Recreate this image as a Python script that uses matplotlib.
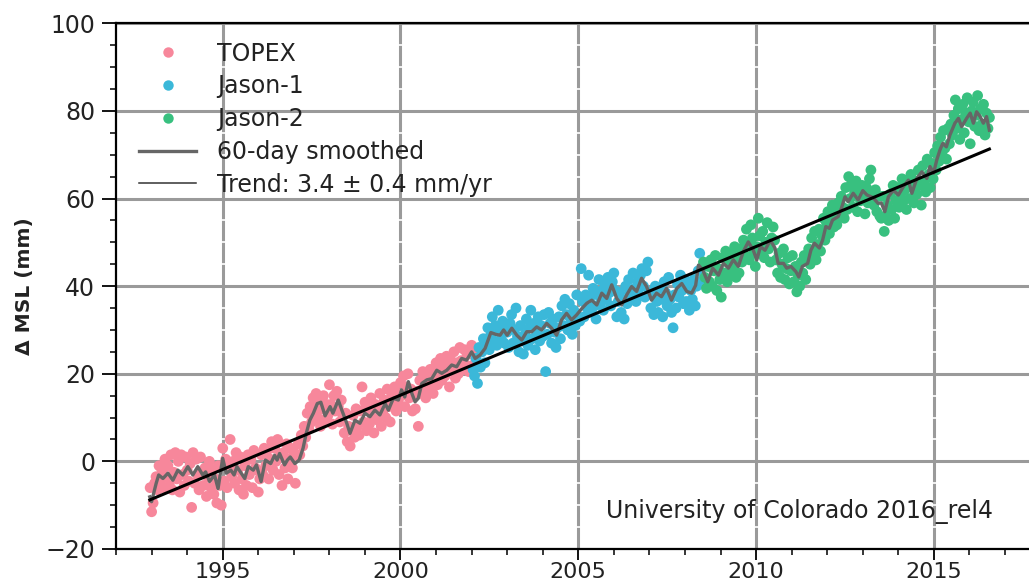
import numpy as np
import matplotlib.pyplot as plt
from matplotlib.lines import Line2D
from matplotlib.ticker import MultipleLocator

plt.rcParams['font.family'] = ['DejaVu Sans']

# --- dane, krok ~15 dni ---
step = 1 / 24

topex_start = 1992.96
topex_mm = [
    -6.0, -11.5, -9.5, -5.0, -3.5, -6.5, -1.0, -4.5, -2.0, -6.0, 0.5, -3.5,
    -1.0, -5.5, 1.5, -6.5, -2.5, 2.0, -4.0, 0.0, -7.0, 1.5, -3.0, -5.5,
    1.0, -2.0, -4.5, -0.5, -10.5, 2.0, -5.0, 0.5, -3.0, -6.5, 1.0, -2.5,
    -5.5, -1.5, -8.0, -3.5, 0.0, -6.0, -2.0, -7.5, -4.0, -9.5, -1.0, -5.5,
    -10.0, 3.0, -4.5, 0.5, -6.0, -1.5, 5.0, -3.5, 0.0, -5.0, 2.0, -2.0,
    -6.5, 1.0, -4.0, -7.5, -1.0, -5.5, 1.5, -3.0, 0.5, -6.0, 2.5, -1.5,
    -2.0, -7.0, -4.0, 1.5, -3.0, 3.0, -1.0, 2.5, -4.0, 0.5, 4.5, -2.0,
    3.0, 0.0, 5.0, -3.0, 1.5, -5.5, 2.0, -1.5, 4.0, -4.0, 0.5, 3.0,
    -1.5, 2.0, -5.0, 1.0, 4.0, 1.5, 6.0, 3.5, 8.0, 5.5, 11.0, 7.5,
    12.5, 9.0, 14.5, 11.0, 15.5, 10.0, 13.5, 8.0, 12.0, 15.0, 9.5, 13.0,
    10.5, 17.5, 13.0, 8.5, 15.0, 11.5, 16.0, 12.5, 9.0, 14.0, 10.5, 6.5,
    11.0, 4.5, 8.0, 3.5, 7.0, 10.5, 5.5, 12.0, 8.0, 6.0, 11.5, 17.0,
    9.0, 13.5, 7.0, 12.0, 8.5, 14.5, 10.0, 6.5, 13.0, 9.5, 12.0, 15.5,
    8.0, 11.0, 14.0, 10.0, 16.5, 12.5, 9.0, 15.0, 13.0, 17.0, 11.5, 15.5,
    13.0, 18.0, 15.0, 19.5, 12.5, 17.0, 20.0, 14.5, 16.5, 11.5, 15.0, 12.0,
    16.0, 8.0, 18.5, 15.5, 20.5, 17.0, 14.5, 19.0, 16.5, 21.0, 18.0, 15.5,
    19.0, 22.5, 17.5, 21.0, 23.5, 18.5, 22.0, 19.5, 24.0, 20.5, 17.0, 23.0,
    21.5, 25.0, 19.0, 22.5, 20.0, 26.0, 23.0, 21.0, 25.5, 22.0, 24.5, 20.5,
    24.5, 26.5, 22.0, 25.0,
]

jason1_start = 2002.04
jason1_mm = [
    21.0, 19.5, 23.5, 17.8, 26.0, 21.5, 25.0, 28.0, 22.5, 27.0, 30.5, 25.5,
    29.0, 33.0, 27.5, 31.0, 26.5, 34.5, 30.0, 28.0, 32.0, 27.0, 31.5, 29.5,
    26.0, 31.5, 33.5, 27.0, 30.0, 35.0, 28.5, 25.0, 31.0, 27.5, 24.5, 29.0,
    32.5, 26.5, 30.5, 34.5, 28.0, 31.5, 25.5, 29.5, 33.0, 27.5, 31.0, 28.5,
    33.5, 20.5, 29.0, 34.0, 31.5, 27.0, 32.5, 29.5, 26.0, 30.5, 33.0, 28.0,
    35.5, 31.0, 37.0, 33.5, 30.0, 36.0, 32.5, 29.0, 34.5, 31.0, 38.0, 33.0,
    32.0, 44.0, 36.5, 33.0, 38.0, 35.0, 42.5, 37.5, 34.0, 39.5, 35.5, 32.5,
    38.0, 41.5, 36.0, 39.0, 34.5, 40.5, 37.0, 42.0, 38.5, 35.5, 41.0, 43.0,
    39.0, 33.0, 36.5, 38.5, 34.0, 37.0, 32.5, 40.0, 36.0, 41.5, 38.5, 37.0,
    43.0, 39.5, 36.5, 41.0, 38.0, 42.5, 44.0, 40.0, 37.5, 43.5, 45.5, 38.5,
    35.0, 38.0, 33.5, 40.0, 36.5, 34.0, 39.5, 37.0, 33.0, 41.0, 38.5, 35.5,
    42.0, 37.0, 34.0, 30.5, 38.0, 35.0, 40.5, 37.5, 42.5, 39.0, 36.0, 41.5,
    36.5, 40.5, 34.5, 39.0, 37.0, 41.5, 35.5, 40.0, 43.5, 47.5, 44.0, 41.5,
    45.0,
]

jason2_start = 2008.52
jason2_mm = [
    45.5, 42.0, 39.5, 44.5, 41.0, 46.0, 40.0, 43.5, 47.0, 39.0, 44.0, 41.5,
    37.5, 46.5, 43.0, 48.0, 41.0, 45.5, 42.5, 47.5, 44.0, 49.0, 42.0, 46.0,
    43.0, 48.5, 45.5, 50.5, 47.0, 53.0, 49.5, 46.0, 54.0, 51.0, 47.5, 44.5,
    49.0, 55.5, 51.5, 48.0, 52.5, 46.5, 50.0, 54.5, 48.5, 45.5, 51.0, 53.5,
    50.5, 46.0, 43.0, 47.5, 42.0, 45.0, 48.5, 41.5, 44.0, 46.5, 40.5, 43.5,
    47.0, 41.0, 44.5, 38.7, 42.5, 40.0, 45.5, 43.0, 47.0, 41.5, 46.0, 48.5,
    45.0, 51.0, 47.5, 52.5, 46.0, 49.5, 53.0, 48.0, 51.5, 55.5, 50.5, 54.5,
    57.0, 52.0, 55.0, 58.5, 53.5, 57.0, 54.0, 59.0, 56.0, 60.5, 58.0, 55.5,
    62.5, 57.5, 65.0, 60.0, 63.5, 58.0, 61.5, 64.0, 57.0, 62.0, 59.5, 63.0,
    60.5, 56.5, 62.5, 59.0, 64.5, 66.5, 61.0, 58.5, 62.0, 57.0, 60.5, 56.0,
    55.5, 60.5, 52.5, 56.0, 58.5, 55.0, 61.0, 57.5, 63.0, 55.5, 59.5, 62.5,
    58.0, 61.0, 64.5, 59.5, 62.0, 57.5, 63.5, 60.0, 65.5, 62.5, 59.0, 64.0,
    61.0, 66.5, 63.0, 58.5, 67.5, 64.0, 61.5, 69.0, 65.5, 62.5, 68.0, 64.5,
    70.5, 66.5, 72.0, 68.5, 74.0, 70.0, 75.5, 71.5, 69.0, 76.0, 72.5, 77.0,
    74.5, 79.0, 82.5, 76.0, 80.5, 73.5, 78.0, 81.5, 75.0, 79.5, 83.0, 77.5,
    72.5, 80.0, 82.0, 76.5, 79.0, 83.5, 75.5, 80.5, 77.0, 81.5, 74.5, 79.5,
    76.0, 78.5,
]

# krzywa wygladzona (60 dni)
smooth_year = [
    1992.95, 1993.00, 1993.13, 1993.20, 1993.32, 1993.46, 1993.60, 1993.74, 1993.88,
    1994.02, 1994.16, 1994.30, 1994.44, 1994.52, 1994.63, 1994.77, 1994.87,
    1995.00, 1995.10, 1995.23, 1995.32, 1995.40, 1995.62, 1995.72, 1995.86, 1995.95,
    1996.08, 1996.20, 1996.35, 1996.46, 1996.53, 1996.60, 1996.74, 1996.82, 1996.90,
    1997.03, 1997.15, 1997.26, 1997.35, 1997.45, 1997.55, 1997.66, 1997.76, 1997.88,
    1998.02, 1998.10, 1998.25, 1998.35, 1998.49, 1998.58, 1998.72, 1998.86,
    1999.00, 1999.14, 1999.28, 1999.42, 1999.57, 1999.66, 1999.80, 1999.94,
    2000.03, 2000.12, 2000.22, 2000.32, 2000.41, 2000.50, 2000.60, 2000.74, 2000.88,
    2001.02, 2001.16, 2001.30, 2001.44, 2001.58, 2001.72, 2001.86,
    2002.00, 2002.10, 2002.24, 2002.38, 2002.54, 2002.68, 2002.80, 2002.90,
    2003.00, 2003.13, 2003.27, 2003.41, 2003.55, 2003.69, 2003.83, 2003.97,
    2004.11, 2004.25, 2004.39, 2004.53, 2004.67, 2004.81, 2004.95,
    2005.10, 2005.24, 2005.38, 2005.52, 2005.66, 2005.80, 2005.94,
    2006.08, 2006.22, 2006.36, 2006.50, 2006.64, 2006.78, 2006.92,
    2007.06, 2007.20, 2007.34, 2007.48, 2007.62, 2007.77, 2007.91,
    2008.05, 2008.19, 2008.30, 2008.38, 2008.50, 2008.64, 2008.78, 2008.94,
    2009.08, 2009.22, 2009.36, 2009.50, 2009.64, 2009.78, 2009.92,
    2010.02, 2010.12, 2010.25, 2010.40, 2010.53, 2010.62, 2010.77, 2010.86, 2010.98,
    2011.12, 2011.20, 2011.30, 2011.45, 2011.54, 2011.64, 2011.78, 2011.87, 2011.96,
    2012.06, 2012.15, 2012.31, 2012.40, 2012.50, 2012.59, 2012.73, 2012.87,
    2013.00, 2013.12, 2013.29, 2013.43, 2013.52, 2013.62, 2013.72, 2013.86,
    2014.00, 2014.14, 2014.28, 2014.38, 2014.52, 2014.66, 2014.80, 2014.89, 2014.99,
    2015.08, 2015.17, 2015.25, 2015.35, 2015.45, 2015.59, 2015.69, 2015.78, 2015.92,
    2016.02, 2016.11, 2016.20, 2016.30, 2016.39, 2016.48, 2016.56,
]
smooth_mm = [
    -8.1, -9.2, -5.0, -3.1, -3.9, -2.7, -4.3, -2.0, -3.1,
    -1.2, -3.1, -1.2, -3.1, -2.4, -4.6, -3.1, -6.2,
    0.7, -2.7, -2.0, -3.1, -1.2, -3.9, -1.2, -2.0, -0.8,
    -4.6, 0.3, -0.5, 1.4, 0.3, 1.8, -0.8, 0.3, 1.0,
    -0.5, 0.3, 3.0, 6.4, 9.4, 11.0, 13.2, 13.5, 10.4,
    12.5, 11.0, 14.0, 11.7, 8.7, 6.4, 9.4, 8.7,
    11.0, 10.2, 11.7, 10.6, 13.2, 11.7, 14.4, 14.0,
    16.3, 14.7, 18.2, 15.5, 13.6, 14.4, 17.8, 18.6, 18.9,
    20.8, 20.1, 20.8, 22.0, 21.6, 23.5, 23.1,
    25.0, 23.5, 24.3, 25.8, 29.4, 29.0, 28.8, 30.0,
    28.8, 30.4, 28.8, 27.7, 29.6, 29.6, 30.7, 30.0,
    31.5, 30.4, 28.8, 32.3, 33.8, 32.3, 33.4,
    34.9, 36.1, 36.8, 35.7, 38.4, 37.2, 40.3,
    37.2, 35.7, 38.0, 39.9, 38.8, 41.8, 39.9,
    36.8, 38.4, 37.6, 39.5, 36.8, 39.5, 40.6,
    38.8, 38.4, 40.2, 44.8, 43.7, 41.0, 44.1, 42.5,
    45.2, 44.1, 46.0, 44.5, 47.9, 50.1, 48.2,
    46.0, 49.0, 48.2, 50.5, 48.7, 45.2, 45.2, 44.1, 44.5,
    43.3, 42.1, 44.5, 45.2, 48.2, 49.8, 48.7, 50.5, 53.6,
    53.2, 55.1, 55.9, 57.8, 60.4, 59.3, 61.2, 59.7,
    61.8, 60.8, 60.2, 58.9, 59.0, 57.0, 60.4, 61.9,
    60.8, 62.7, 64.2, 61.2, 64.6, 66.1, 64.6, 67.3, 65.8,
    68.8, 71.1, 72.6, 71.8, 74.5, 77.2, 78.3, 76.4, 78.3,
    79.5, 77.2, 79.8, 78.7, 77.2, 78.7, 75.6,
]

trend_year = [1992.95, 2016.56]
trend_mm = [-8.8, 71.3]

col_topex = '#f7879b'
col_jason1 = '#3bb8d9'
col_jason2 = '#38c07f'
col_grid = '#9a9a9a'

topex_t = topex_start + np.arange(len(topex_mm)) * step
jason1_t = jason1_start + np.arange(len(jason1_mm)) * step
jason2_t = jason2_start + np.arange(len(jason2_mm)) * step

# --- wykres ---
fig = plt.figure(figsize=(10.29, 5.83), dpi=100)
ax = fig.add_axes([116.0 / 1029, 34.0 / 583, 924.6 / 1029, 525.7 / 583])

ax.scatter(topex_t, topex_mm, s=60, color=col_topex, edgecolors='none', zorder=2)
ax.scatter(jason1_t, jason1_mm, s=60, color=col_jason1, edgecolors='none', zorder=2)
ax.scatter(jason2_t, jason2_mm, s=60, color=col_jason2, edgecolors='none', zorder=2)
ax.plot(smooth_year, smooth_mm, color='#666666', lw=2.4, zorder=3)
ax.plot(trend_year, trend_mm, color='black', lw=2.2, zorder=4)

ax.set_xlim(1992, 2018)
ax.set_ylim(-20, 100)
ax.xaxis.set_major_locator(MultipleLocator(5))
ax.xaxis.set_minor_locator(MultipleLocator(1))
ax.yaxis.set_major_locator(MultipleLocator(20))
ax.yaxis.set_minor_locator(MultipleLocator(5))

ax.set_axisbelow(True)
ax.grid(True, which='major', color=col_grid, lw=2.2)
ax.yaxis.grid(True, which='minor', color='white', lw=1.2)

ax.tick_params(axis='both', which='major', width=1.3, color='black',
               labelcolor='#222222')
ax.tick_params(axis='y', which='major', length=10, pad=5, labelsize=17)
ax.tick_params(axis='x', which='major', length=8, pad=1.5, labelsize=16)
ax.tick_params(axis='both', which='minor', length=4, width=1.1)
ax.tick_params(top=False, right=False, which='both')

for sp in ax.spines.values():
    sp.set_linewidth(1.6)
    sp.set_color('black')

ax.set_ylabel('Δ MSL (mm)', fontsize=14.5, fontweight='bold', color='#222222')
ax.yaxis.set_label_coords(-0.0885, 0.5)

ax.text(0.949, 0.0704, 'University of Colorado 2016_rel4', transform=ax.transAxes,
        ha='right', va='center', fontsize=17, color='#222222')

handles = [
    Line2D([], [], ls='none', marker='o', ms=7.5, color=col_topex, mec='none'),
    Line2D([], [], ls='none', marker='o', ms=7.5, color=col_jason1, mec='none'),
    Line2D([], [], ls='none', marker='o', ms=7.5, color=col_jason2, mec='none'),
    Line2D([], [], color='#666666', lw=2.4),
    Line2D([], [], color='#333333', lw=1.1),
]
labels = ['TOPEX', 'Jason-1', 'Jason-2', '60-day smoothed', 'Trend: 3.4 ± 0.4 mm/yr']
leg = ax.legend(handles, labels, loc='upper left', bbox_to_anchor=(0.0252, 0.965),
                frameon=False, fontsize=17, handlelength=2.4, handletextpad=0.9,
                labelspacing=0.37, borderpad=0, borderaxespad=0)
for t in leg.get_texts():
    t.set_color('#222222')

fig.savefig('out.png', dpi=100)
